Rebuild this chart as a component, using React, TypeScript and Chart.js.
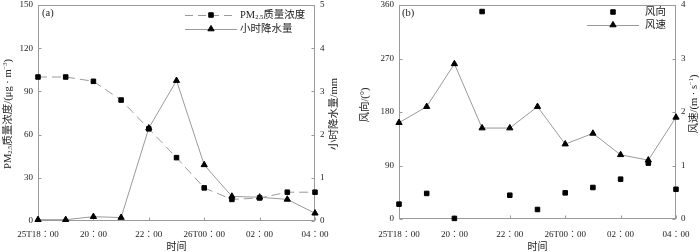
import React, { useEffect, useRef } from 'react';
import { Chart, registerables } from 'chart.js';
Chart.register(...registerables);

// ---- data ----
const categories = ['25T18：00', '19：00', '20：00', '21：00', '22：00', '23：00', '26T00：00', '01：00', '02：00', '03：00', '04：00'];
const pm25 = [100, 100, 97, 84, 64, 44, 23, 15, 16, 20, 20];
const rain = [0.03, 0.03, 0.1, 0.08, 2.15, 3.25, 1.3, 0.57, 0.55, 0.5, 0.18];
const windDir = [25, 43, 1, 349, 40, 16, 44, 53, 67, 94, 50];
const windSpeed = [1.8, 2.1, 2.9, 1.7, 1.7, 2.1, 1.4, 1.6, 1.2, 1.1, 1.9];

const FONT = '"Liberation Serif", "Times New Roman", "Noto Sans CJK SC", serif';
const TICK_FONT = '"Liberation Serif", "Times New Roman", "Noto Sans CJK TC", serif';
const AXIS = '#9a9a9a';
const LINE = '#9a9a9a';
const TEXT = '#222';

type Part = { t: string; s: number; dy?: number };

function drawRich(ctx: CanvasRenderingContext2D, parts: Part[], cx: number, cy: number, rot: number, align: 'center' | 'left' = 'center') {
  ctx.save();
  ctx.translate(cx, cy);
  ctx.rotate(rot);
  ctx.textBaseline = 'middle';
  ctx.textAlign = 'left';
  ctx.fillStyle = TEXT;
  let total = 0;
  for (const p of parts) { ctx.font = `${p.s}px ${FONT}`; total += ctx.measureText(p.t).width; }
  let x = align === 'center' ? -total / 2 : 0;
  for (const p of parts) {
    ctx.font = `${p.s}px ${FONT}`;
    ctx.fillText(p.t, x, p.dy || 0);
    x += ctx.measureText(p.t).width;
  }
  ctx.restore();
}

function drawMarker(ctx: CanvasRenderingContext2D, style: string, x: number, y: number, r: number) {
  ctx.save();
  ctx.fillStyle = '#000';
  ctx.strokeStyle = '#000';
  ctx.lineWidth = 1;
  ctx.setLineDash([]);
  ctx.beginPath();
  if (style === 'rect') {
    const s = r * Math.SQRT1_2;
    ctx.rect(x - s, y - s, 2 * s, 2 * s);
  } else {
    let rad = 0;
    ctx.moveTo(x + Math.sin(rad) * r, y - Math.cos(rad) * r);
    rad += (2 * Math.PI) / 3;
    ctx.lineTo(x + Math.sin(rad) * r, y - Math.cos(rad) * r);
    rad += (2 * Math.PI) / 3;
    ctx.lineTo(x + Math.sin(rad) * r, y - Math.cos(rad) * r);
    ctx.closePath();
  }
  ctx.fill();
  ctx.stroke();
  ctx.restore();
}

type LegendItem = { label: Part[]; dash: number[] | null; line: boolean; marker: string; r: number };

type Decor = {
  panel: string;
  panelX: number;
  yLeftTitle: Part[]; yLeftX: number; yLeftY: number;
  yRightTitle: Part[]; yRightX: number; yRightY: number;
  xTitleY: number;
  legend: LegendItem[]; legX0: number; legX1: number; legMarkerX: number; legTextX: number; legY: number[];
};

function makeDecor(d: Decor) {
  return {
    id: 'decor' + d.panel,
    beforeDatasetsDraw(chart: any) {
      const ctx: CanvasRenderingContext2D = chart.ctx;
      const a = chart.chartArea;
      ctx.save();
      ctx.strokeStyle = AXIS;
      ctx.lineWidth = 1;
      const L = Math.round(a.left) + 0.5, R = Math.round(a.right) - 0.5;
      const T = Math.round(a.top) + 0.5, B = Math.round(a.bottom) - 0.5;
      ctx.strokeRect(L, T, R - L, B - T);
      ctx.beginPath();
      const xs = chart.scales.x;
      for (let i = 0; i < categories.length; i += 2) {
        const px = Math.round(xs.getPixelForValue(i)) + 0.5;
        ctx.moveTo(px, B); ctx.lineTo(px, B - 3);
      }
      const yl = chart.scales.y;
      for (const t of yl.ticks) {
        const py = Math.round(yl.getPixelForValue(t.value)) + 0.5;
        ctx.moveTo(L, py); ctx.lineTo(L + 3, py);
      }
      const yr = chart.scales.y1;
      for (const t of yr.ticks) {
        const py = Math.round(yr.getPixelForValue(t.value)) + 0.5;
        ctx.moveTo(R, py); ctx.lineTo(R - 3, py);
      }
      ctx.stroke();
      ctx.restore();
    },
    afterDraw(chart: any) {
      const ctx: CanvasRenderingContext2D = chart.ctx;
      const a = chart.chartArea;
      drawRich(ctx, d.yLeftTitle, d.yLeftX, d.yLeftY, -Math.PI / 2);
      drawRich(ctx, d.yRightTitle, d.yRightX, d.yRightY, -Math.PI / 2);
      drawRich(ctx, [{ t: '时间', s: 10 }], (a.left + a.right) / 2, d.xTitleY, 0);
      drawRich(ctx, [{ t: d.panel, s: 10.5 }], d.panelX, 13, 0, 'left');
      d.legend.forEach((it, k) => {
        const y = d.legY[k];
        if (it.line) {
          ctx.save();
          ctx.strokeStyle = LINE;
          ctx.lineWidth = 1;
          ctx.setLineDash(it.dash || []);
          ctx.beginPath();
          ctx.moveTo(d.legX0, y + 0.5);
          ctx.lineTo(d.legX1, y + 0.5);
          ctx.stroke();
          ctx.restore();
        }
        drawMarker(ctx, it.marker, d.legMarkerX, y, it.r);
        drawRich(ctx, it.label, d.legTextX, y, 0, 'left');
      });
    },
  };
}

const tickFont = { family: TICK_FONT, size: 9 };

function makeOptions(cfg: { top: number; xH: number; yW: number; y1W: number; yMax: number; yStep: number; y1Max: number; y1Step: number; xPad: number }) {
  const grid = { display: false, drawTicks: false, tickLength: 0 };
  return {
    responsive: false,
    animation: false as const,
    devicePixelRatio: 1,
    layout: { padding: { top: cfg.top, left: 0, right: 0, bottom: 0 } },
    plugins: { legend: { display: false }, tooltip: { enabled: false } },
    scales: {
      x: {
        type: 'category' as const,
        offset: false,
        grid,
        border: { display: false },
        ticks: {
          autoSkip: false, maxRotation: 0, minRotation: 0, padding: cfg.xPad, color: TEXT, font: tickFont,
          callback: (_v: any, i: number) => (i % 2 === 0 ? categories[i] : ''),
        },
        afterFit: (s: any) => { s.height = cfg.xH; s.paddingLeft = 0; s.paddingRight = 0; },
      },
      y: {
        position: 'left' as const,
        min: 0, max: cfg.yMax,
        grid,
        border: { display: false },
        ticks: { stepSize: cfg.yStep, padding: 5, color: TEXT, font: tickFont },
        afterFit: (s: any) => { s.width = cfg.yW; s.paddingTop = 0; s.paddingBottom = 0; },
      },
      y1: {
        position: 'right' as const,
        min: 0, max: cfg.y1Max,
        grid,
        border: { display: false },
        ticks: { stepSize: cfg.y1Step, padding: 5, color: TEXT, font: tickFont },
        afterFit: (s: any) => { s.width = cfg.y1W; s.paddingTop = 0; s.paddingBottom = 0; },
      },
    },
  };
}

function PanelA() {
  const ref = useRef<HTMLCanvasElement>(null);
  useEffect(() => {
    const chart = new Chart(ref.current!, {
      type: 'line',
      data: {
        labels: categories,
        datasets: [
          {
            label: 'PM2.5质量浓度', data: pm25, yAxisID: 'y',
            borderColor: LINE, borderWidth: 1, borderDash: [9, 5],
            pointStyle: 'rect', pointRadius: 3.2, pointBackgroundColor: '#000', pointBorderColor: '#000', pointBorderWidth: 1,
            clip: false as any,
          },
          {
            label: '小时降水量', data: rain, yAxisID: 'y1',
            borderColor: LINE, borderWidth: 1,
            pointStyle: 'triangle', pointRadius: 3.6, pointBackgroundColor: '#000', pointBorderColor: '#000', pointBorderWidth: 1,
            clip: false as any,
          },
        ],
      },
      options: makeOptions({ top: 5, xH: 31, yW: 38, y1W: 35, yMax: 150, yStep: 30, y1Max: 5, y1Step: 1, xPad: 8 }) as any,
      plugins: [makeDecor({
        panel: '(a)', panelX: 42,
        yLeftTitle: [
          { t: 'PM', s: 10.5 }, { t: '2.5', s: 6.5, dy: 2.5 }, { t: '质量浓度/(μg · m', s: 10.5 }, { t: '−3', s: 6.5, dy: -3 }, { t: ')', s: 10.5 },
        ],
        yLeftX: 8, yLeftY: 114,
        yRightTitle: [{ t: '小时降水量/mm', s: 10.5 }], yRightX: 334, yRightY: 114,
        xTitleY: 247,
        legend: [
          { label: [{ t: 'PM', s: 10.5 }, { t: '2.5', s: 6.5, dy: 2.5 }, { t: '质量浓度', s: 10.5 }], dash: [8, 5], line: true, marker: 'rect', r: 3.2 },
          { label: [{ t: '小时降水量', s: 10.5 }], dash: null, line: true, marker: 'triangle', r: 3.6 },
        ],
        legX0: 185, legX1: 237, legMarkerX: 211, legTextX: 240, legY: [15, 29],
      })],
    });
    return () => chart.destroy();
  }, []);
  return <canvas ref={ref} width={350} height={252} style={{ width: 350, height: 252, display: 'block' }} />;
}

function PanelB() {
  const ref = useRef<HTMLCanvasElement>(null);
  useEffect(() => {
    const chart = new Chart(ref.current!, {
      type: 'line',
      data: {
        labels: categories,
        datasets: [
          {
            label: '风向', data: windDir, yAxisID: 'y', showLine: false,
            pointStyle: 'rect', pointRadius: 3.2, pointBackgroundColor: '#000', pointBorderColor: '#000', pointBorderWidth: 1,
            clip: false as any,
          },
          {
            label: '风速', data: windSpeed, yAxisID: 'y1',
            borderColor: LINE, borderWidth: 1,
            pointStyle: 'triangle', pointRadius: 3.6, pointBackgroundColor: '#000', pointBorderColor: '#000', pointBorderWidth: 1,
            clip: false as any,
          },
        ],
      },
      options: makeOptions({ top: 3, xH: 33, yW: 49, y1W: 24, yMax: 360, yStep: 90, y1Max: 4, y1Step: 1, xPad: 10 }) as any,
      plugins: [makeDecor({
        panel: '(b)', panelX: 52,
        yLeftTitle: [{ t: '风向/(°)', s: 10.5 }], yLeftX: 15, yLeftY: 105,
        yRightTitle: [{ t: '风速/(m · s', s: 10.5 }, { t: '−1', s: 6.5, dy: -3 }, { t: ')', s: 10.5 }], yRightX: 344, yRightY: 104,
        xTitleY: 247,
        legend: [
          { label: [{ t: '风向', s: 10.5 }], dash: null, line: false, marker: 'rect', r: 3.2 },
          { label: [{ t: '风速', s: 10.5 }], dash: null, line: true, marker: 'triangle', r: 3.6 },
        ],
        legX0: 237, legX1: 289, legMarkerX: 263, legTextX: 295, legY: [12, 25],
      })],
    });
    return () => chart.destroy();
  }, []);
  return <canvas ref={ref} width={350} height={252} style={{ width: 350, height: 252, display: 'block' }} />;
}

export default function App() {
  return (
    <div style={{ position: 'absolute', left: 0, top: 0, width: 700, height: 252, display: 'flex', background: '#fff' }}>
      <PanelA />
      <PanelB />
    </div>
  );
}
